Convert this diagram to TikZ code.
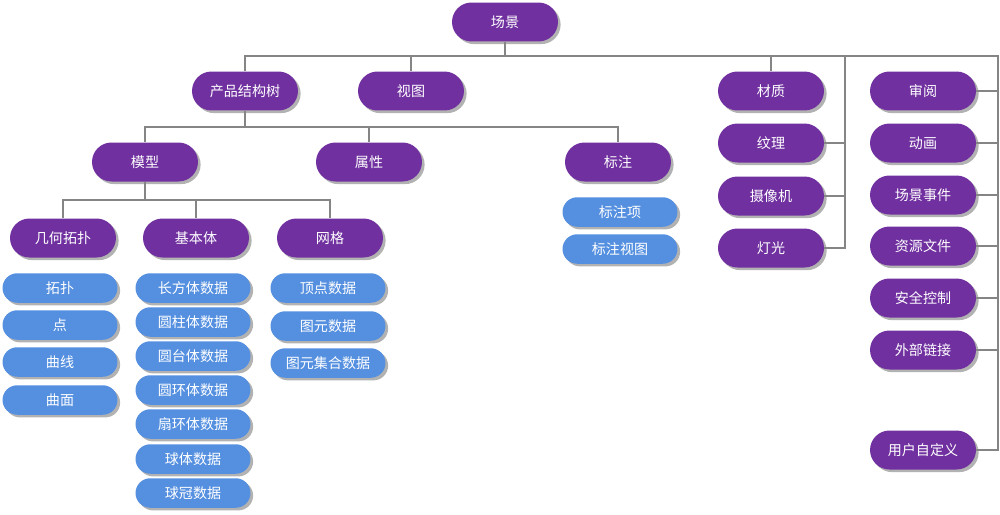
\documentclass[tikz,border=0pt]{standalone}
\usepackage{fontspec}
\newfontfamily\cjk{Noto Sans CJK SC}
\usetikzlibrary{shadows}
\definecolor{pur}{HTML}{7030A0}
\definecolor{blu}{HTML}{5590E0}
\definecolor{conn}{HTML}{858585}
\begin{document}
\begin{tikzpicture}[x=0.02cm,y=-0.02cm,
  pnode/.style={fill=pur,text=white,minimum width=2.12cm,minimum height=0.78cm,rounded corners=0.39cm,
    font=\cjk\fontsize{8}{9}\selectfont,inner sep=0pt,
    drop shadow={shadow xshift=1.5pt,shadow yshift=-1.5pt,fill=black,opacity=0.3}},
  bnode/.style={fill=blu,text=white,minimum width=2.3cm,minimum height=0.59cm,rounded corners=0.295cm,
    font=\cjk\fontsize{8}{9}\selectfont,inner sep=0pt,
    drop shadow={shadow xshift=1.5pt,shadow yshift=-1.5pt,fill=black,opacity=0.3}},
  cline/.style={draw=conn,line width=0.7pt}]
\useasboundingbox (0,0) rectangle (1000,514);
% level 0/1
\node[pnode] (scene) at (505,22) {场景};
\node[pnode] (pst) at (245,91) {产品结构树};
\node[pnode] (shitu) at (411,91) {视图};
\node[pnode] (caizhi) at (771,91) {材质};
\node[pnode] (wenli) at (771,143) {纹理};
\node[pnode] (sxj) at (771,196) {摄像机};
\node[pnode] (dg) at (771,248) {灯光};
\node[pnode] (shenyue) at (923,91) {审阅};
\node[pnode] (donghua) at (923,143) {动画};
\node[pnode] (cjsj) at (923,195) {场景事件};
\node[pnode] (zywj) at (923,246) {资源文件};
\node[pnode] (aqkz) at (923,298) {安全控制};
\node[pnode] (wblj) at (923,350) {外部链接};
\node[pnode] (yhzdy) at (923,450) {用户自定义};
% level 2
\node[pnode] (moxing) at (145,162) {模型};
\node[pnode] (shuxing) at (369,162) {属性};
\node[pnode] (biaozhu) at (618,162) {标注};
% level 3
\node[pnode] (jhtp) at (63,238) {几何拓扑};
\node[pnode] (jbt) at (196,238) {基本体};
\node[pnode] (wangge) at (330,238) {网格};
% blue
\node[bnode] (tuopu) at (60,288) {拓扑};
\node[bnode] (dian) at (60,325) {点};
\node[bnode] (quxian) at (60,362) {曲线};
\node[bnode] (qumian) at (60,400) {曲面};
\node[bnode] (b1) at (193,288) {长方体数据};
\node[bnode] (b2) at (193,322) {圆柱体数据};
\node[bnode] (b3) at (193,356) {圆台体数据};
\node[bnode] (b4) at (193,390) {圆环体数据};
\node[bnode] (b5) at (193,424) {扇环体数据};
\node[bnode] (b6) at (193,459) {球体数据};
\node[bnode] (b7) at (193,493) {球冠数据};
\node[bnode] (g1) at (328,288) {顶点数据};
\node[bnode] (g2) at (328,326) {图元数据};
\node[bnode] (g3) at (328,363) {图元集合数据};
\node[bnode] (bz1) at (620,212) {标注项};
\node[bnode] (bz2) at (620,249) {标注视图};
% connectors
\coordinate (rt) at (998,56);
\coordinate (mb) at (845,56);
\coordinate (bus2) at (0,127);
\coordinate (bus3) at (0,200);
\draw[cline] (scene.south) -- (scene.south |- rt);
\draw[cline] (pst.north) -- (pst.north |- rt) -- (rt) -- (rt |- yhzdy.east) -- (yhzdy.east);
\draw[cline] (shitu.north) -- (shitu.north |- rt);
\draw[cline] (caizhi.north) -- (caizhi.north |- rt);
\draw[cline] (mb) -- (mb |- dg.east) -- (dg.east);
\draw[cline] (wenli.east) -- (wenli.east -| mb);
\draw[cline] (sxj.east) -- (sxj.east -| mb);
\foreach \n in {shenyue,donghua,cjsj,zywj,aqkz,wblj}
  \draw[cline] (\n.east) -- (\n.east -| rt);
\draw[cline] (pst.south) -- (pst.south |- bus2);
\draw[cline] (moxing.north) -- (moxing.north |- bus2) -- (biaozhu.north |- bus2) -- (biaozhu.north);
\draw[cline] (shuxing.north) -- (shuxing.north |- bus2);
\draw[cline] (moxing.south) -- (moxing.south |- bus3);
\draw[cline] (jhtp.north) -- (jhtp.north |- bus3) -- (wangge.north |- bus3) -- (wangge.north);
\draw[cline] (jbt.north) -- (jbt.north |- bus3);
\end{tikzpicture}
\end{document}
